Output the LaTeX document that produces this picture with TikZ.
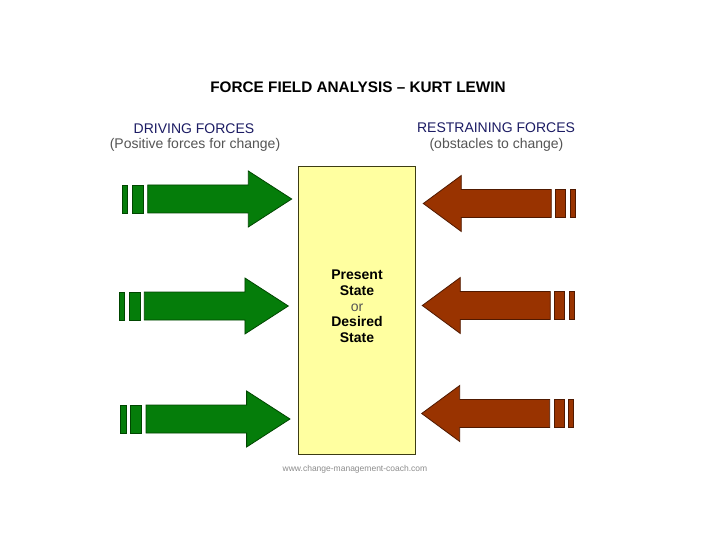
\documentclass[tikz,border=0pt]{standalone}
\usepackage{fontspec}
\setmainfont{Liberation Sans}
\definecolor{drivefill}{RGB}{5,125,10}
\definecolor{driveline}{RGB}{0,70,0}
\definecolor{restfill}{RGB}{153,51,0}
\definecolor{restline}{RGB}{80,25,0}
\definecolor{boxfill}{RGB}{255,255,160}
\definecolor{boxline}{RGB}{60,60,20}
\definecolor{headnavy}{RGB}{28,28,100}
\definecolor{subgray}{RGB}{85,85,85}
\newcommand\drivearrow[2]{%
\begin{scope}[shift={(#1,#2)}]
\draw[drivestyle] (-144,-14) -- (-43.4,-14) -- (-43.4,-28) -- (0,0) -- (-43.4,28) -- (-43.4,14) -- (-144,14) -- cycle;
\draw[drivestyle] (-159.4,-14) rectangle (-148.4,14);
\draw[drivestyle] (-169.4,-14) rectangle (-164,14);
\end{scope}}
\newcommand\restarrow[2]{%
\begin{scope}[shift={(#1,#2)}]
\draw[reststyle] (128,-14) -- (38,-14) -- (38,-28) -- (0,0) -- (38,28) -- (38,14) -- (128,14) -- cycle;
\draw[reststyle] (132.5,-14) rectangle (142.5,14);
\draw[reststyle] (146.7,-14) rectangle (152,14);
\end{scope}}
\begin{document}
\begin{tikzpicture}[x=1pt,y=-1pt,
  drivestyle/.style={fill=drivefill,draw=driveline,line width=0.8pt,line join=miter},
  reststyle/.style={fill=restfill,draw=restline,line width=0.8pt,line join=miter},
  statebox/.style={fill=boxfill,draw=boxline,line width=0.8pt,inner sep=0pt},
  heading/.style={anchor=base,inner sep=0pt,text=headnavy,font=\fontsize{14}{16}\selectfont},
  subheading/.style={anchor=base,inner sep=0pt,text=subgray,font=\fontsize{14}{16}\selectfont},
  statetext/.style={anchor=base,inner sep=0pt,font=\bfseries\fontsize{14}{16}\selectfont}]
\useasboundingbox[fill=white] (0,0) rectangle (720,540);
% title
\node[anchor=base,inner sep=0pt,font=\bfseries\fontsize{15.3}{18}\selectfont] (title) at (358,93) {FORCE FIELD ANALYSIS – KURT LEWIN};
% headings
\node[heading] (drv) at (194,133.3) {DRIVING FORCES};
\node[subheading] (drvsub) at (195,148.7) {(Positive forces for change)};
\node[heading] (rst) at (496,133) {RESTRAINING FORCES};
\node[subheading] (rstsub) at (496.5,148.5) {(obstacles to change)};
% central box
\node[statebox,minimum width=117.5pt,minimum height=287.5pt] (state) at (356.75,310.25) {};
\node[statetext] (present) at (357,279.3) {Present};
\node[statetext] (state1) at (357,295) {State};
\node[anchor=base,inner sep=0pt,text=subgray,font=\fontsize{14}{16}\selectfont] (or) at (357,311) {or};
\node[statetext] (desired) at (357,326.7) {Desired};
\node[statetext] (state2) at (357,342.7) {State};
% arrows
\drivearrow{291.7}{199}
\drivearrow{288.3}{306}
\drivearrow{290}{419}
\restarrow{423.3}{203.5}
\restarrow{422.3}{305.5}
\restarrow{421.7}{413.5}
% footer
\node[anchor=base,inner sep=0pt,text=gray!90,font=\fontsize{8.5}{10}\selectfont] (footer) at (355,471) {www.change-management-coach.com};
\end{tikzpicture}
\end{document}
